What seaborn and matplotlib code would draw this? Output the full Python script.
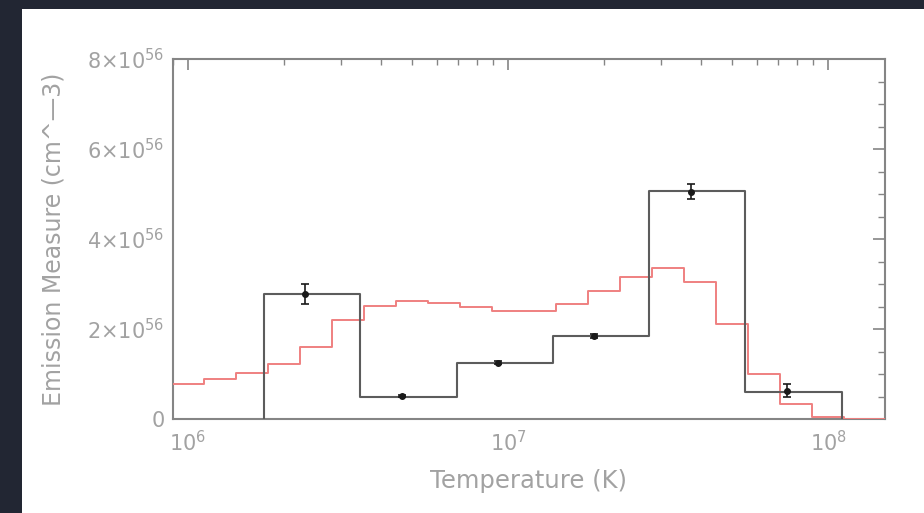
import numpy as np
import pandas as pd
import seaborn as sns
import matplotlib.pyplot as plt
from matplotlib.patches import Rectangle
from matplotlib.ticker import FixedLocator, FuncFormatter, LogLocator, NullFormatter

# Observed emission measure: 0.3-dex temperature bins (log10 K edges)
obs_edges_log = [6.237, 6.538, 6.839, 7.140, 7.441, 7.742, 8.043]
obs_em = [2.78, 0.50, 1.25, 1.85, 5.07, 0.61]          # units of 1e56 cm^-3
pt_log = [6.366, 6.668, 6.969, 7.270, 7.571, 7.872]
pt_em = [2.78, 0.51, 1.25, 1.85, 5.05, 0.63]
pt_err = [0.23, 0.03, 0.03, 0.04, 0.17, 0.15]

# Model emission measure: 0.1-dex bins
mod_edges_log = [5.95, 6.05, 6.15, 6.25, 6.35, 6.45, 6.55, 6.65, 6.75, 6.85, 6.95,
                 7.05, 7.15, 7.25, 7.35, 7.45, 7.55, 7.65, 7.75, 7.85, 7.95, 8.05, 8.20]
mod_em = [0.78, 0.90, 1.03, 1.22, 1.61, 2.20, 2.52, 2.62, 2.57, 2.50, 2.41,
          2.39, 2.56, 2.85, 3.15, 3.35, 3.05, 2.11, 1.01, 0.33, 0.04, 0.0]

y_ticks = [0, 2, 4, 6, 8]
y_labels = ["0", r"2×10$^{56}$", r"4×10$^{56}$", r"6×10$^{56}$", r"8×10$^{56}$"]

SCALE = 1e56
txt = "#a2a2a2"
spine = "#858585"

sns.set_theme(style="white")
plt.rcParams["font.family"] = ["DejaVu Sans"]
plt.rcParams["mathtext.fontset"] = "dejavusans"

fig = plt.figure(figsize=(9.24, 5.13), dpi=100, facecolor="#222633")
fig.patches.append(Rectangle((22 / 924, 0), 1 - 22 / 924, (513 - 9) / 513,
                             transform=fig.transFigure, facecolor="white",
                             edgecolor="none", zorder=-10))
ax = fig.add_axes([173 / 924, 94 / 513, 712 / 924, 360 / 513])
ax.set_facecolor("white")

# model histogram (red), drawn above the frame so the zero tail stays visible
mx = [10 ** e for e in mod_edges_log]
my = list(np.array(mod_em) * SCALE) + [mod_em[-1] * SCALE]
sns.lineplot(x=mx, y=my, estimator=None, sort=False, drawstyle="steps-post",
             color="#ef8080", linewidth=1.4, ax=ax, zorder=3)

# observed histogram (dark grey), closed down to zero at both ends
ox = [10 ** obs_edges_log[0]] + [10 ** e for e in obs_edges_log] + [10 ** obs_edges_log[-1]]
oy = [0.0] + list(np.array(obs_em) * SCALE) + [obs_em[-1] * SCALE, 0.0]
sns.lineplot(x=ox, y=oy, estimator=None, sort=False, drawstyle="steps-post",
             color="#5c5c5c", linewidth=1.5, ax=ax, zorder=4)

# measured points with error bars
px = [10 ** v for v in pt_log]
ax.errorbar(px, np.array(pt_em) * SCALE, yerr=np.array(pt_err) * SCALE, fmt="o",
            color="#1a1a1a", markersize=4, elinewidth=1.2, capsize=3, capthick=1.2,
            zorder=5)

ax.set_xscale("log")
ax.set_xlim(10 ** 5.953, 10 ** 8.178)
ax.set_ylim(0, 8 * SCALE)

ax.yaxis.set_major_locator(FixedLocator([t * SCALE for t in y_ticks]))
ax.yaxis.set_minor_locator(FixedLocator([t * 0.5 * SCALE for t in range(17)]))
ax.yaxis.set_major_formatter(FuncFormatter(lambda v, p: y_labels[int(round(v / SCALE / 2))]))
ax.xaxis.set_major_locator(LogLocator(base=10, numticks=10))
ax.xaxis.set_minor_locator(LogLocator(base=10, subs=np.arange(2, 10), numticks=20))
ax.xaxis.set_minor_formatter(NullFormatter())

for s in ax.spines.values():
    s.set_visible(True)
    s.set_color(spine)
    s.set_linewidth(1.5)

ax.tick_params(which="both", direction="in", top=True, right=True, colors=spine,
               labelcolor=txt, labelsize=15)
ax.tick_params(axis="y", which="major", length=9, width=1.2, pad=6)
ax.tick_params(axis="y", which="minor", length=5, width=1.0)
ax.tick_params(axis="x", which="major", length=8, width=1.2, pad=8)
ax.tick_params(axis="x", which="minor", length=4, width=1.0)

ax.set_xlabel("Temperature (K)", color=txt, fontsize=17.5, labelpad=10)
ax.set_ylabel("Emission Measure (cm^—3)", color=txt, fontsize=17, labelpad=16)

fig.savefig("out.png", dpi=100, facecolor=fig.get_facecolor())
